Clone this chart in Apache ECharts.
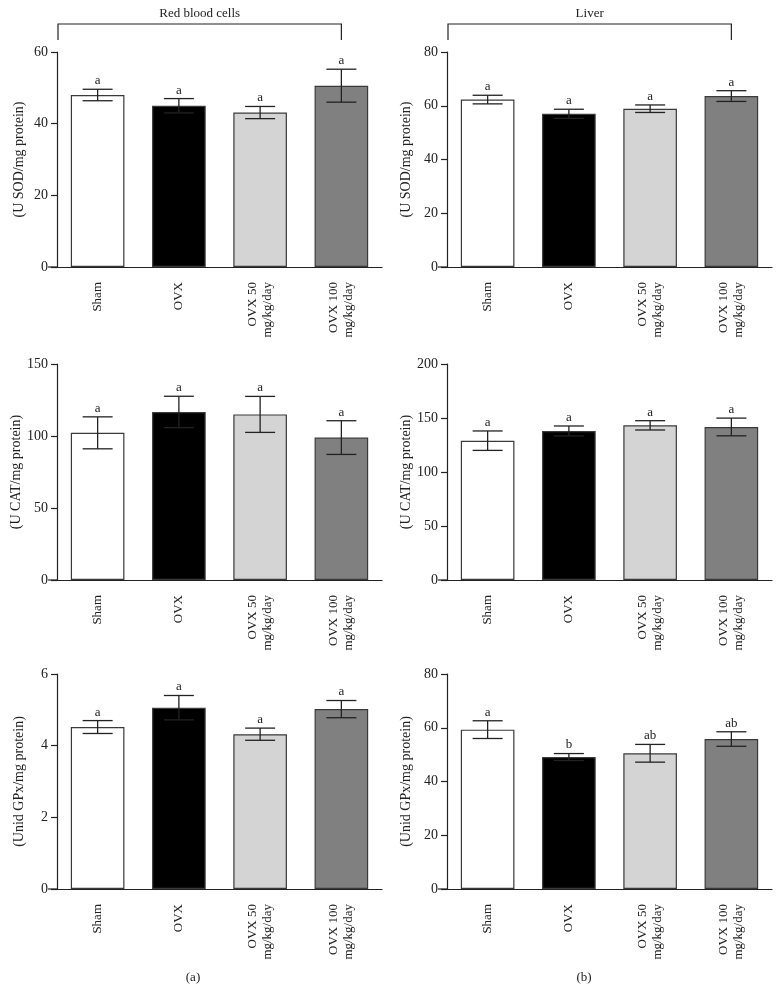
<!DOCTYPE html>
<html>
<head>
<meta charset="utf-8">
<script src="https://cdn.jsdelivr.net/npm/echarts@6/dist/echarts.min.js"></script>
<style>
html,body{margin:0;padding:0;background:#fff;}
#chart{width:781px;height:992px;}
</style>
</head>
<body>
<div id="chart"></div>
<script>
// ---- data ----
const categories = ['Sham', 'OVX', 'OVX 50\nmg/kg/day', 'OVX 100\nmg/kg/day'];
const barColors = ['#ffffff', '#000000', '#d4d4d4', '#808080'];

const rbcSOD = [48.0, 45.0, 43.1, 50.6];
const rbcSODErr = [1.6, 2.0, 1.7, 4.6];
const rbcSODLetters = ['a', 'a', 'a', 'a'];

const liverSOD = [62.3, 57.0, 58.9, 63.6];
const liverSODErr = [1.6, 1.7, 1.4, 2.0];
const liverSODLetters = ['a', 'a', 'a', 'a'];

const rbcCAT = [102.2, 116.7, 115.0, 98.9];
const rbcCATErr = [11.1, 10.9, 12.5, 11.7];
const rbcCATLetters = ['a', 'a', 'a', 'a'];

const liverCAT = [129.0, 138.0, 143.2, 141.7];
const liverCATErr = [9.0, 4.6, 4.3, 8.2];
const liverCATLetters = ['a', 'a', 'a', 'a'];

const rbcGPx = [4.52, 5.06, 4.32, 5.02];
const rbcGPxErr = [0.18, 0.34, 0.17, 0.24];
const rbcGPxLetters = ['a', 'a', 'a', 'a'];

const liverGPx = [59.3, 49.1, 50.5, 55.8];
const liverGPxErr = [3.3, 1.3, 3.3, 2.7];
const liverGPxLetters = ['a', 'b', 'ab', 'ab'];

const yTitles = ['(U SOD/mg protein)', '(U SOD/mg protein)', '(U CAT/mg protein)', '(U CAT/mg protein)', '(Unid GPx/mg protein)', '(Unid GPx/mg protein)'];
const yMax = [60, 80, 150, 200, 6, 80];
const yInterval = [20, 20, 50, 50, 2, 20];
const groupTitles = ['Red blood cells', 'Liver'];
const panelTags = ['(a)', '(b)'];

const panels = [
  {v: rbcSOD, e: rbcSODErr, l: rbcSODLetters},
  {v: liverSOD, e: liverSODErr, l: liverSODLetters},
  {v: rbcCAT, e: rbcCATErr, l: rbcCATLetters},
  {v: liverCAT, e: liverCATErr, l: liverCATLetters},
  {v: rbcGPx, e: rbcGPxErr, l: rbcGPxLetters},
  {v: liverGPx, e: liverGPxErr, l: liverGPxLetters}
];

// ---- layout ----
const FONT = '"Liberation Serif", "Times New Roman", serif';
const INK = '#222';
const colLeft = [57, 447];
const gridW = 325;
const rowTop = [52, 364, 674];
const gridH = [215, 216, 215];

const chart = echarts.init(document.getElementById('chart'), null, {renderer: 'canvas'});

const grids = [], xAxes = [], yAxes = [], series = [];
panels.forEach((p, i) => {
  const r = Math.floor(i / 2), c = i % 2;
  grids.push({left: colLeft[c], top: rowTop[r], width: gridW, height: gridH[r], containLabel: false});
  xAxes.push({
    type: 'category', gridIndex: i, data: categories,
    axisLine: {lineStyle: {color: INK, width: 1.2}},
    axisTick: {alignWithLabel: true, length: 5, lineStyle: {color: INK, width: 1.2}},
    axisLabel: {rotate: 90, margin: 15, fontFamily: FONT, fontSize: 13, color: INK, lineHeight: 15},
    splitLine: {show: false}
  });
  yAxes.push({
    type: 'value', gridIndex: i, min: 0, max: yMax[i], interval: yInterval[i],
    name: yTitles[i], nameLocation: 'middle', nameGap: c === 0 ? 31 : 34, nameRotate: 90,
    nameTextStyle: {fontFamily: FONT, fontSize: 14, color: INK},
    axisLine: {show: true, lineStyle: {color: INK, width: 1.2}},
    axisTick: {show: true, length: 6, lineStyle: {color: INK, width: 1.2}},
    axisLabel: {margin: 9, fontFamily: FONT, fontSize: 14, color: INK},
    splitLine: {show: false}
  });
  series.push({
    type: 'bar', xAxisIndex: i, yAxisIndex: i, barWidth: '66%',
    data: p.v.map((v, k) => ({value: v, itemStyle: {color: barColors[k]}})),
    itemStyle: {borderColor: '#3a3a3a', borderWidth: 1.2},
    emphasis: {disabled: true}, animation: false
  });
  const letters = p.l;
  series.push({
    type: 'custom', xAxisIndex: i, yAxisIndex: i, animation: false,
    data: p.v.map((v, k) => [k, v, p.e[k]]),
    encode: {x: 0, y: 1},
    z: 5,
    renderItem: function (params, api) {
      const x = api.value(0), m = api.value(1), e = api.value(2);
      const top = api.coord([x, m + e]);
      const bot = api.coord([x, m - e]);
      const half = 15;
      const st = {stroke: INK, lineWidth: 1.3};
      return {
        type: 'group',
        children: [
          {type: 'line', shape: {x1: top[0], y1: top[1], x2: bot[0], y2: bot[1]}, style: st},
          {type: 'line', shape: {x1: top[0] - half, y1: top[1], x2: top[0] + half, y2: top[1]}, style: st},
          {type: 'line', shape: {x1: bot[0] - half, y1: bot[1], x2: bot[0] + half, y2: bot[1]}, style: st},
          {type: 'text', style: {text: letters[params.dataIndex], x: top[0], y: top[1] - 2,
            align: 'center', verticalAlign: 'bottom', font: '13px ' + FONT, fill: INK}}
        ]
      };
    }
  });
});

chart.setOption({
  backgroundColor: '#fff',
  animation: false,
  grid: grids, xAxis: xAxes, yAxis: yAxes, series: series
});

// brackets, group titles, baseline extensions
const graphics = [];
[0, 1].forEach(c => {
  const leftX = colLeft[c] + 1;
  const rightX = chart.convertToPixel({xAxisIndex: c}, categories[3]);
  const yTop = 24, yBot = 40;
  graphics.push({type: 'polyline', shape: {points: [[leftX, yBot], [leftX, yTop], [rightX, yTop], [rightX, yBot]]},
    style: {stroke: INK, lineWidth: 1.2, fill: null}});
  graphics.push({type: 'text', style: {text: groupTitles[c], x: (leftX + rightX) / 2, y: 14,
    align: 'center', verticalAlign: 'middle', font: '13px ' + FONT, fill: INK}});
});
panels.forEach((p, i) => {
  const c = i % 2;
  const y0 = chart.convertToPixel({yAxisIndex: i}, 0);
  graphics.push({type: 'line', shape: {x1: colLeft[c] - 9, y1: y0, x2: colLeft[c], y2: y0},
    style: {stroke: INK, lineWidth: 1.2}});
});
graphics.push({type: 'text', style: {text: panelTags[0], x: 193, y: 978, align: 'center', verticalAlign: 'middle', font: '13px ' + FONT, fill: INK}});
graphics.push({type: 'text', style: {text: panelTags[1], x: 584, y: 978, align: 'center', verticalAlign: 'middle', font: '13px ' + FONT, fill: INK}});
chart.setOption({graphic: graphics});
</script>
</body>
</html>
